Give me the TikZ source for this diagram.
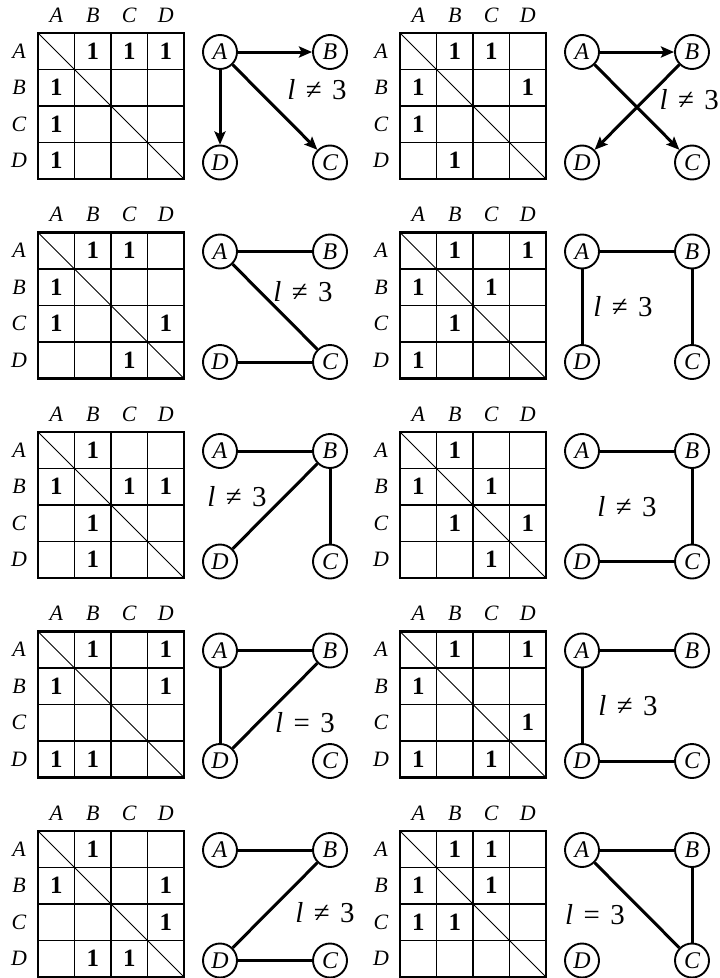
\documentclass[tikz,border=0pt]{standalone}
\usepackage{fontspec}
\setmainfont{Liberation Serif}
\usetikzlibrary{arrows.meta}
\tikzset{
  gnode/.style={circle, draw, line width=1.9bp, minimum size=34bp, inner sep=0pt, font=\fontsize{24}{24}\selectfont\itshape},
  hdr/.style={font=\fontsize{22}{22}\selectfont\itshape, inner sep=0pt},
  one/.style={font=\fontsize{25}{25}\selectfont\bfseries, inner sep=0pt},
  gline/.style={line width=3bp},
  garrow/.style={gline, -{Stealth[length=13bp,width=11bp,inset=2.5bp]}},
  lab/.style={font=\fontsize{29}{29}\selectfont, inner sep=0pt},
  outer/.style={line width=2.4bp},
  inner/.style={line width=1.4bp},
  diag/.style={line width=1bp},
}
\newcommand\mypanel[4]{%
 \begin{scope}[shift={(#2,#3)}]
  \foreach \kk in {1,2,3} {
    \draw[inner] (\kk*36.5,0) -- (\kk*36.5,146);
    \draw[inner] (0,\kk*36.5) -- (146,\kk*36.5);
  }
  \draw[diag] (0,0) -- (146,146);
  \draw[outer] (0,0) rectangle (146,146);
  \foreach \LL [count=\kk] in {A,B,C,D} {
    \node[hdr] (#1h\LL) at (\kk*36.5-18.25,-18) {\LL};
    \node[hdr] (#1r\LL) at (-19,\kk*36.5-18.25) {\LL};
  }
  \foreach \ri/\ci in {#4} {
    \node[one] (#1e\ri\ci) at (\ci*36.5-18.25,\ri*36.5-18.25) {1};
  }
  \node[gnode] (#1A) at (182,19) {A};
  \node[gnode] (#1B) at (292,19) {B};
  \node[gnode] (#1D) at (182,129.5) {D};
  \node[gnode] (#1C) at (292,129.5) {C};
 \end{scope}}
\newcommand\labne{{\itshape l}\hspace{0.36em}≠\hspace{0.36em}3}
\newcommand\labeq{{\itshape l}\hspace{0.36em}=\hspace{0.36em}3}
\begin{document}
\begin{tikzpicture}[x=1bp,y=-1bp]
\fill[white] (0,0) rectangle (720,978);
\useasboundingbox (0,0) rectangle (720,978);

\mypanel{pa}{38}{33}{1/2,1/3,1/4,2/1,3/1,4/1}
\draw[garrow] (paA) -- (paB);
\draw[garrow] (paA) -- (paD);
\draw[garrow] (paA) -- (paC);
\node[lab] (pal) at (317,90) {\labne};

\mypanel{pb}{400}{33}{1/2,1/3,2/1,2/4,3/1,4/2}
\draw[garrow] (pbA) -- (pbB);
\draw[garrow] (pbA) -- (pbC);
\draw[garrow] (pbB) -- (pbD);
\node[lab,anchor=east] (pbl) at (719,100) {\labne};

\mypanel{pc}{38}{232.5}{1/2,1/3,2/1,3/1,3/4,4/3}
\draw[gline] (pcA) -- (pcB);
\draw[gline] (pcA) -- (pcC);
\draw[gline] (pcD) -- (pcC);
\node[lab] (pcl) at (303,292) {\labne};

\mypanel{pd}{400}{232.5}{1/2,1/4,2/1,2/3,3/2,4/1}
\draw[gline] (pdA) -- (pdB);
\draw[gline] (pdA) -- (pdD);
\draw[gline] (pdB) -- (pdC);
\node[lab] (pdl) at (623,307) {\labne};

\mypanel{pe}{38}{432}{1/2,2/1,2/3,2/4,3/2,4/2}
\draw[gline] (peA) -- (peB);
\draw[gline] (peB) -- (peD);
\draw[gline] (peB) -- (peC);
\node[lab] (pel) at (237,497) {\labne};

\mypanel{pf}{400}{432}{1/2,2/1,2/3,3/2,3/4,4/3}
\draw[gline] (pfA) -- (pfB);
\draw[gline] (pfB) -- (pfC);
\draw[gline] (pfD) -- (pfC);
\node[lab] (pfl) at (627,507) {\labne};

\mypanel{pg}{38}{631.5}{1/2,1/4,2/1,2/4,4/1,4/2}
\draw[gline] (pgA) -- (pgB);
\draw[gline] (pgA) -- (pgD);
\draw[gline] (pgB) -- (pgD);
\node[lab] (pgl) at (305,723) {\labeq};

\mypanel{ph}{400}{631.5}{1/2,1/4,2/1,3/4,4/1,4/3}
\draw[gline] (phA) -- (phB);
\draw[gline] (phA) -- (phD);
\draw[gline] (phD) -- (phC);
\node[lab] (phl) at (628,706) {\labne};

\mypanel{pi}{38}{831}{1/2,2/1,2/4,3/4,4/2,4/3}
\draw[gline] (piA) -- (piB);
\draw[gline] (piB) -- (piD);
\draw[gline] (piD) -- (piC);
\node[lab] (pil) at (325,913) {\labne};

\mypanel{pj}{400}{831}{1/2,1/3,2/1,2/3,3/1,3/2}
\draw[gline] (pjA) -- (pjB);
\draw[gline] (pjA) -- (pjC);
\draw[gline] (pjB) -- (pjC);
\node[lab] (pjl) at (595,915) {\labeq};
\end{tikzpicture}
\end{document}
